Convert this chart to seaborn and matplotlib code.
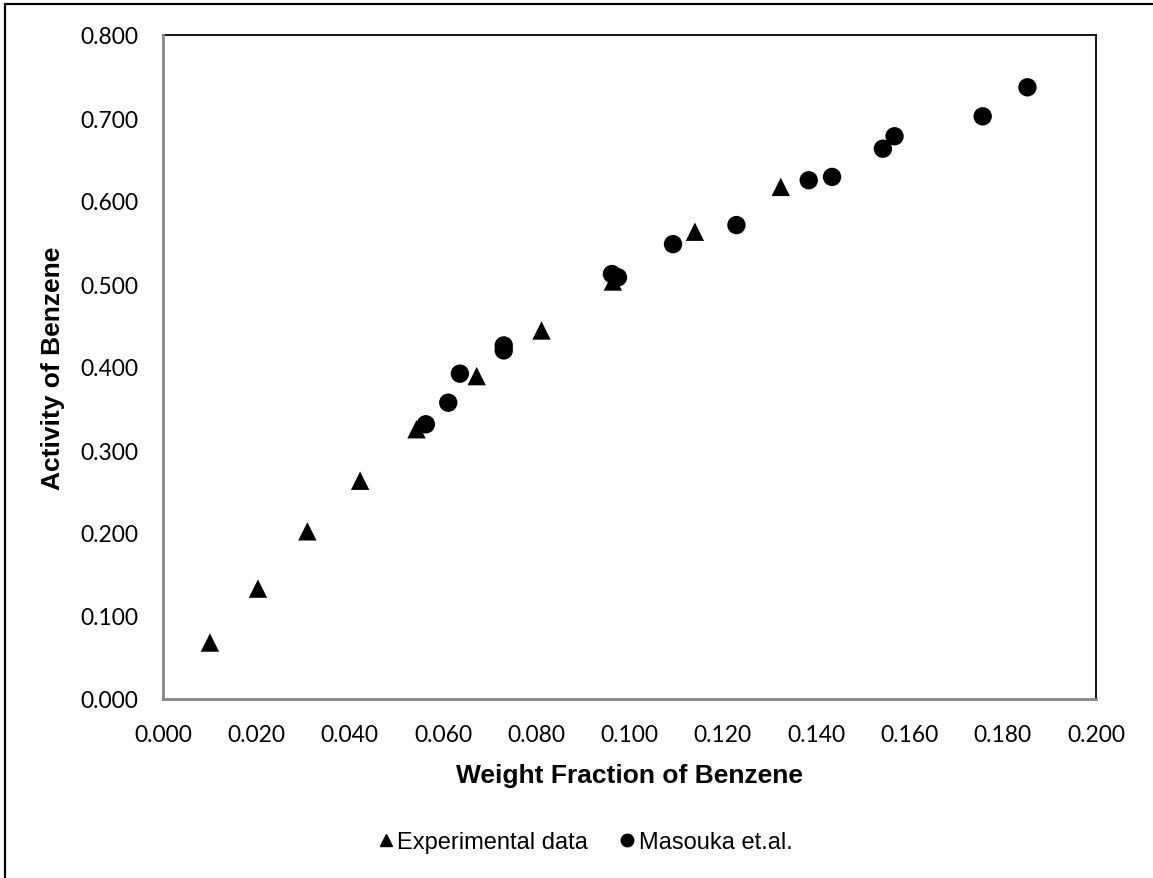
import matplotlib
matplotlib.use("Agg")
import matplotlib.pyplot as plt
from matplotlib import font_manager
from matplotlib.lines import Line2D
import seaborn as sns
import pandas as pd

# Activity of benzene vs. weight fraction of benzene
exp_x = [0.0100, 0.0203, 0.0309, 0.0422, 0.0543, 0.0672, 0.0811, 0.0964, 0.1140, 0.1324]
exp_y = [0.068, 0.133, 0.202, 0.263, 0.325, 0.389, 0.444, 0.503, 0.563, 0.617]

mas_x = [0.0563, 0.0611, 0.0636, 0.0730, 0.0730, 0.0962, 0.0975, 0.1093, 0.1229,
         0.1384, 0.1434, 0.1543, 0.1568, 0.1757, 0.1853]
mas_y = [0.331, 0.357, 0.392, 0.426, 0.420, 0.512, 0.508, 0.548, 0.571,
         0.625, 0.629, 0.663, 0.678, 0.702, 0.737]

series_names = ["Experimental data", "Masouka et.al."]
x_ticks = [0.000, 0.020, 0.040, 0.060, 0.080, 0.100, 0.120, 0.140, 0.160, 0.180, 0.200]
y_ticks = [0.000, 0.100, 0.200, 0.300, 0.400, 0.500, 0.600, 0.700, 0.800]

df = pd.DataFrame({
    "x": exp_x + mas_x,
    "y": exp_y + mas_y,
    "series": [series_names[0]] * len(exp_x) + [series_names[1]] * len(mas_x),
})

sns.set_theme(style="white")
installed = {f.name for f in font_manager.fontManager.ttflist}
tick_font = "Lato" if "Lato" in installed else "DejaVu Sans"
label_font = "Liberation Sans" if "Liberation Sans" in installed else "DejaVu Sans"
legend_font = "Liberation Sans Narrow" if "Liberation Sans Narrow" in installed else label_font
plt.rcParams["font.family"] = [label_font, "DejaVu Sans"]
plt.rcParams["text.color"] = "black"
plt.rcParams["axes.labelcolor"] = "black"

fig = plt.figure(figsize=(11.53, 8.79), dpi=100)
ax = fig.add_axes([163.3 / 1153, (879 - 700) / 879, (1096 - 163.3) / 1153, (700 - 36) / 879])

sns.scatterplot(
    data=df, x="x", y="y", style="series",
    markers={series_names[0]: "^", series_names[1]: "o"},
    color="black", s=175, linewidth=0, ax=ax, legend=False, zorder=3,
)

ax.set_xlim(0, 0.2)
ax.set_ylim(0, 0.8)
ax.set_xticks(x_ticks)
ax.set_yticks(y_ticks)
ax.set_xticklabels([f"{v:.3f}" for v in x_ticks])
ax.set_yticklabels([f"{v:.3f}" for v in y_ticks])

gray = "#868686"
for side in ("left", "bottom"):
    ax.spines[side].set_color(gray)
    ax.spines[side].set_linewidth(2.0)
for side in ("top", "right"):
    ax.spines[side].set_color("black")
    ax.spines[side].set_linewidth(1.3)
ax.spines["left"].set_zorder(4)
ax.spines["bottom"].set_zorder(4)

ax.tick_params(axis="both", direction="in", length=5.5, width=1.3, color=gray,
               labelsize=16.5, pad=18, labelcolor="black")
for lab in ax.get_xticklabels() + ax.get_yticklabels():
    lab.set_fontfamily(tick_font)

ax.set_xlabel("Weight Fraction of Benzene", fontsize=19, fontweight="bold", color="black")
ax.set_ylabel("Activity of Benzene", fontsize=19, fontweight="bold", color="black")
ax.xaxis.set_label_coords(0.5, (700 - 776) / 664)
ax.xaxis.label.set_va("center")
ax.yaxis.set_label_coords((53 - 163.3) / 932.7, 0.5)
ax.yaxis.label.set_va("center")

handles = [
    Line2D([], [], linestyle="none", marker="^", color="black", markersize=9),
    Line2D([], [], linestyle="none", marker="o", color="black", markersize=9),
]
fig.legend(handles, series_names, loc="center", bbox_to_anchor=(585 / 1153, 1 - 843 / 879),
           ncol=2, frameon=False, handlelength=0.7, handletextpad=0.15, columnspacing=1.3,
           prop={"family": legend_font, "size": 17}, labelcolor="black")

# outer frame of the chart area
fig.add_artist(Line2D([5 / 1153, 5 / 1153], [0, 1 - 5 / 879], transform=fig.transFigure,
                      color="black", linewidth=1.6))
fig.add_artist(Line2D([5 / 1153, 1], [1 - 5 / 879, 1 - 5 / 879], transform=fig.transFigure,
                      color="black", linewidth=1.6))

fig.savefig("out.png", dpi=100, facecolor="white")
